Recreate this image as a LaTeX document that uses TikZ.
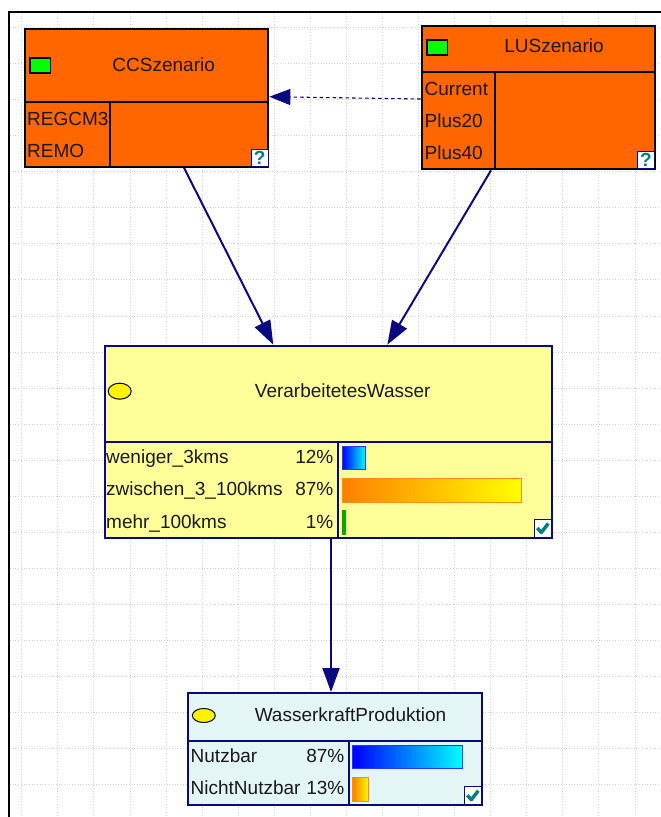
\documentclass[tikz,border=0pt]{standalone}
\usepackage{fontspec}
\setmainfont{Liberation Sans}
\usetikzlibrary{arrows.meta,shapes.geometric}

\definecolor{netorange}{RGB}{255,102,0}
\definecolor{netnavy}{RGB}{10,10,128}
\definecolor{netyellow}{RGB}{255,255,153}
\definecolor{netcyan}{RGB}{228,245,245}
\definecolor{gridgray}{RGB}{212,212,212}
\definecolor{iconteal}{RGB}{0,128,128}
\definecolor{inktext}{RGB}{25,25,25}
\definecolor{barorange}{RGB}{255,128,0}
\definecolor{barborder}{RGB}{255,140,20}
\definecolor{barblue}{RGB}{30,60,255}
\definecolor{bargreen}{RGB}{0,170,0}

\begin{document}
\begin{tikzpicture}[x=1pt,y=-1pt,
  every node/.style={font=\fontsize{19}{23}\selectfont, text=inktext},
  gridline/.style={gridgray, line width=0.7pt, dotted},
  decisionbox/.style={rectangle, draw=black, fill=netorange, line width=2pt, inner sep=0pt},
  chancebox/.style={rectangle, draw=netnavy, line width=2pt, inner sep=0pt},
  divider/.style={line width=2pt},
  labeltext/.style={anchor=base west, inner sep=0pt},
  pcttext/.style={anchor=base east, inner sep=0pt},
  titletext/.style={anchor=base, inner sep=0pt},
  greenmark/.style={rectangle, draw=black, fill=green, line width=1.5pt, minimum width=20.5pt, minimum height=15pt, inner sep=0pt},
  yellowdot/.style={ellipse, draw=black, fill=yellow, line width=1pt, inner sep=0pt},
  helpicon/.style={rectangle, draw=netnavy, fill=white, line width=1pt, minimum size=17pt, inner sep=0pt,
                   text=iconteal, font=\fontsize{19}{19}\selectfont\bfseries},
  checkicon/.style={rectangle, draw=netnavy, fill=white, line width=1pt, minimum size=17.5pt, inner sep=0pt},
  checkstroke/.style={iconteal, line width=3.4pt, line join=round},
  link/.style={netnavy, line width=2pt, -{Triangle[length=24pt,width=17pt]}},
  infolink/.style={netnavy, line width=1.1pt, dash pattern=on 3.5pt off 3pt, -{Triangle[length=21pt,width=16pt]}}
]
\useasboundingbox (0,0) rectangle (661,817);
\fill[white] (0,0) rectangle (661,817);

% background grid
\foreach \i in {0,...,17}
  \draw[gridline] ({21.7+36.07*\i},13) -- ({21.7+36.07*\i},817);
\foreach \j in {0,...,21}
  \draw[gridline] (10,{27.4+36.06*\j}) -- (661,{27.4+36.06*\j});

% window frame
\draw[line width=2pt] (9,817) -- (9,12) -- (661,12);

% ---------- CCSzenario ----------
\node[decisionbox, minimum width=243.3pt, minimum height=137.4pt] (ccs) at (146.7,98) {};
\draw[divider] (25,102.3) -- (268.3,102.3);
\draw[divider] (110,102.3) -- (110,166.7);
\node[greenmark] (ccsmark) at (40,65.3) {};
\node[titletext] (ccstitle) at (163.7,71) {CCSzenario};
\node[labeltext] (ccsa) at (27,125) {REGCM3};
\node[labeltext] (ccsb) at (27,157.3) {REMO};
\node[helpicon] (ccshelp) at (259.7,158) {?};

% ---------- LUSzenario ----------
\node[decisionbox, minimum width=233pt, minimum height=143.3pt] (lus) at (538.2,97.7) {};
\draw[divider] (421.7,72.3) -- (654.7,72.3);
\draw[divider] (495.3,72.3) -- (495.3,169.3);
\node[greenmark] (lusmark) at (437,47.5) {};
\node[titletext] (lustitle) at (554,52.7) {LUSzenario};
\node[labeltext] (lusa) at (424.5,95) {Current};
\node[labeltext] (lusb) at (424.5,127.3) {Plus20};
\node[labeltext] (lusc) at (424.5,159.3) {Plus40};
\node[helpicon] (lushelp) at (645.8,160.3) {?};

% ---------- VerarbeitetesWasser ----------
\node[chancebox, fill=netyellow, minimum width=447.3pt, minimum height=192.3pt] (vw) at (328.7,441.9) {};
\draw[divider, netnavy] (105,441.7) -- (552.3,441.7);
\draw[divider, netnavy] (337.7,441.7) -- (337.7,538);
\node[yellowdot, minimum width=23pt, minimum height=16pt] (vwdot) at (119.7,391.2) {};
\node[titletext] (vwtitle) at (342.7,397.3) {VerarbeitetesWasser};
\node[labeltext] (vwa) at (106,463.3) {weniger\_3kms};
\node[labeltext] (vwb) at (106,495.7) {zwischen\_3\_100kms};
\node[labeltext] (vwc) at (106,528.3) {mehr\_100kms};
\node[pcttext] (vwpa) at (333.5,463.3) {12\%};
\node[pcttext] (vwpb) at (333.5,495.7) {87\%};
\node[pcttext] (vwpc) at (333.5,528.3) {1\%};
\shade[left color=blue, right color=cyan] (342.5,446.2) rectangle (365.2,469.5);
\draw[barblue, line width=1pt] (342.5,446.2) rectangle (365.2,469.5);
\shade[left color=barorange, right color=yellow] (342.5,478.2) rectangle (521.5,502.2);
\draw[barborder, line width=1pt] (342.5,478.2) rectangle (521.5,502.2);
\fill[bargreen] (342,510) rectangle (345.7,535);
\node[checkicon] (vwcheck) at (542.8,528.5) {};
\draw[checkstroke] (vwcheck.center) ++(-5.5,-0.5) -- ++(4,4.5) -- ++(7,-9);

% ---------- WasserkraftProduktion ----------
\node[chancebox, fill=netcyan, minimum width=294pt, minimum height=112pt] (wp) at (335.3,749) {};
\draw[divider, netnavy] (188.3,741) -- (482.3,741);
\draw[divider, netnavy] (349,741) -- (349,805);
\node[yellowdot, minimum width=23pt, minimum height=14pt] (wpdot) at (203.8,715.5) {};
\node[titletext] (wptitle) at (350.5,721) {WasserkraftProduktion};
\node[labeltext] (wpa) at (190.5,762.3) {Nutzbar};
\node[labeltext] (wpb) at (190.5,794) {NichtNutzbar};
\node[pcttext] (wppa) at (344.5,762.3) {87\%};
\node[pcttext] (wppb) at (344.5,794) {13\%};
\shade[left color=blue, right color=cyan] (352.8,745.5) rectangle (462.5,768.5);
\draw[barblue, line width=1pt] (352.8,745.5) rectangle (462.5,768.5);
\shade[left color=barorange, right color=yellow] (352.8,777.2) rectangle (368.8,801.2);
\draw[barborder, line width=1pt] (352.8,777.2) rectangle (368.8,801.2);
\node[checkicon] (wpcheck) at (472.8,795.7) {};
\draw[checkstroke] (wpcheck.center) ++(-5.5,-0.5) -- ++(4,4.5) -- ++(7,-9);

% ---------- connectors ----------
\draw[link] ([xshift=37.3pt]ccs.south) -- ([xshift=-55.4pt]vw.north);
\draw[link] ([xshift=-47.2pt]lus.south) -- ([xshift=58.6pt]vw.north);
\draw[link] ([xshift=2.3pt]vw.south) -- ([xshift=-4.3pt]wp.north);
\draw[infolink] ([yshift=-1.3pt]lus.west) -- ([yshift=1.3pt]ccs.east);
\end{tikzpicture}
\end{document}
